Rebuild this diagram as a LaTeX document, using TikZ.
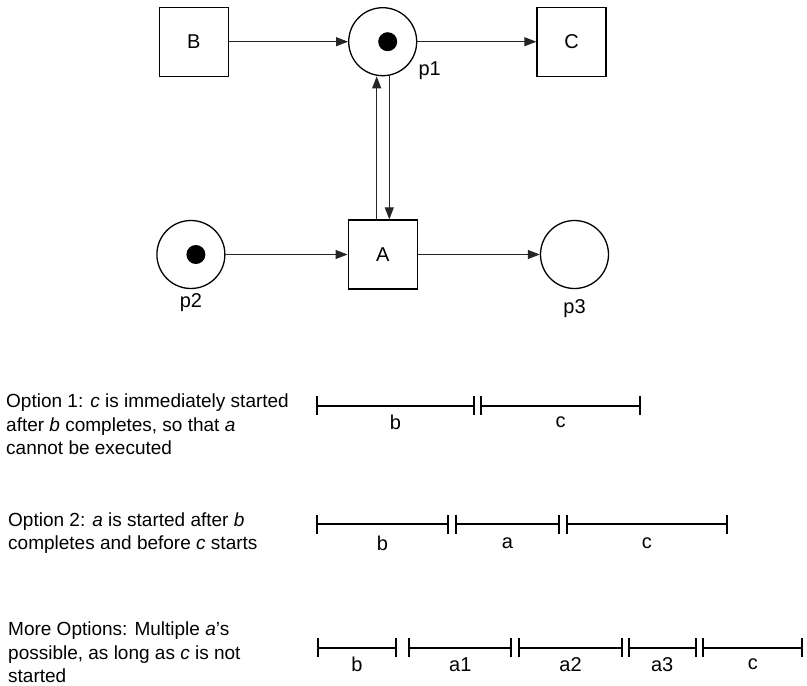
\documentclass[tikz,border=0pt]{standalone}
\usepackage{fontspec}
\setmainfont{Liberation Sans}
\usetikzlibrary{arrows.meta,positioning}

\begin{document}
\begin{tikzpicture}[x=1pt, y=-1pt,
    node distance=119pt,
    place/.style={
        draw,
        circle,
        line width=1.3pt,
        minimum size=68pt,
        inner sep=0pt
    },
    trans/.style={
        draw,
        rectangle,
        line width=1.3pt,
        minimum size=69pt,
        inner sep=0pt,
        font=\fontsize{20}{24}\selectfont
    },
    token/.style={fill, circle, minimum size=19pt, inner sep=0pt},
    plabel/.style={font=\fontsize{20}{24}\selectfont},
    conn/.style={->, line width=1pt, black!85},
    note/.style={
        align=left,
        anchor=north west,
        inner sep=0pt,
        font=\fontsize{19}{23.5}\selectfont
    },
    span/.style={line width=1.9pt, {Bar[width=19pt]}-{Bar[width=19pt]}},
    spanlabel/.style={midway, font=\fontsize{20}{24}\selectfont},
    >={Triangle[length=12pt,width=9pt]}
]
\useasboundingbox (0,0) rectangle (807,686);

% petri net
\node[place] (p1) at (382.7,41.7) {};
\node[trans, left=of p1] (B) {B};
\node[trans, right=of p1] (C) {C};
\node[trans, below=143pt of p1] (A) {A};
\node[place, left=122pt of A] (p2) {};
\node[place, right=122pt of A] (p3) {};
\node[token] (tok1) at ([xshift=5pt]p1.center) {};
\node[token] (tok2) at ([xshift=5pt]p2.center) {};
\node[plabel] (lp1) at ([xshift=47pt, yshift=-29pt]p1.center) {p1};
\node[plabel] (lp2) at ([yshift=-48pt]p2.center) {p2};
\node[plabel] (lp3) at ([yshift=-54pt]p3.center) {p3};
\draw[conn] (B) -- (p1);
\draw[conn] (p1) -- (C);
\draw[conn] ([xshift=-6pt]A.north) -- ([xshift=-6pt]A.north |- p1.south);
\draw[conn] ([xshift=6.6pt]A.north |- p1.south) -- ([xshift=6.6pt]A.north);
\draw[conn] (p2) -- (A);
\draw[conn] (A) -- (p3);

% options
\node[note] (opt1) at (6,394) {Option 1: \textit{c} is immediately started\\after \textit{b} completes, so that \textit{a}\\cannot be executed};
\node[note] (opt2) at (8,512.5) {Option 2: \textit{a} is started after \textit{b}\\completes and before \textit{c} starts};
\node[note] (opt3) at (8,622) {More Options: Multiple \textit{a}'s\\possible, as long as \textit{c} is not\\started};

\foreach \xa/\xb/\lbl in {316/474.7/b, 480.3/641/c}
    \draw[span] (\xa,405.7) -- node[spanlabel, yshift=-17pt] {\lbl} (\xb,405.7);
\foreach \xa/\xb/\lbl in {316/448.7/b, 455.3/559.7/a, 566/727.7/c}
    \draw[span] (\xa,524.3) -- node[spanlabel, yshift=-19pt] {\lbl} (\xb,524.3);
\foreach \xa/\xb/\lbl in {317.3/396.7/b, 408.3/512.3/a1, 518.3/622.7/a2, 627.7/696.7/a3, 702.3/803.3/c}
    \draw[span] (\xa,647.7) -- node[spanlabel, yshift=-17pt] {\lbl} (\xb,647.7);
\end{tikzpicture}
\end{document}
